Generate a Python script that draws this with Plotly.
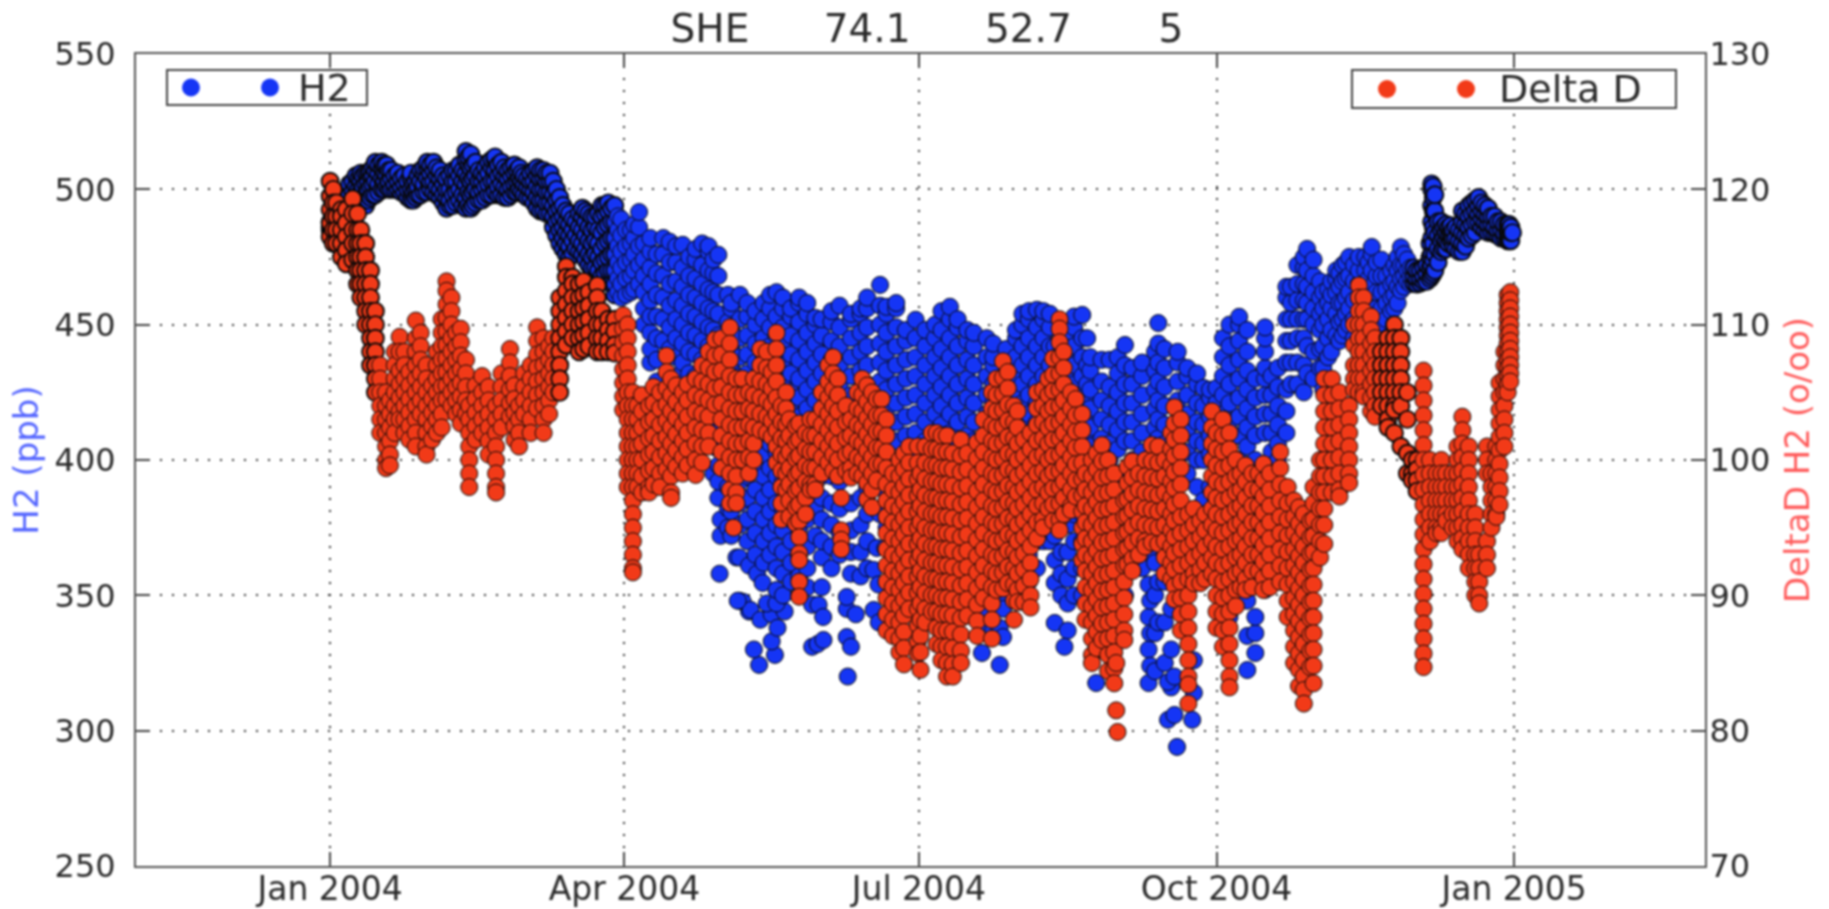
import pandas as pd
import plotly.graph_objects as go

# Every row: [day since 1 Jan 2004, value, value, ...].
h2_q1 = [
[0,485,486,488],[0.5,484,485,487],[1.5,484,487,490],[3,485,488,491],[4,486,490,494],[5,488,491,495,498],[6,490,494,498,502],[7,491,495,499,503],[8,492,497,501,505],[8.8,493,496,500,504],[9.5,495,499,503,506],
[10.2,494,497,501,505],[11,494,498,502,506],[11.8,496,500,503,506],[12.5,497,501,505,507],[13.2,498,502,505,508],[14,498,503,507,510],[15,499,502,506,509],[16,500,504,508,510],[16.8,500,503,506,509],[17.5,501,505,509],[18.2,500,503,507],[19,500,504,507],
[20,500,502,505],[21,500,503,506],[22,499,501,504],[23,499,502,505],[24,497,500,503],[25,496,500,504,506],[25.8,496,499,502],[26.5,497,500,503],[27.2,498,501,505],[28,498,503,507],[29,499,502,506,508],[30,499,504,508,510],[31,500,503,506,509],
[32,499,503,507,510],[33,498,501,505,508],[34,497,500,504,507],[35,495,498,502,505],[36,493,497,500,504],[37,494,496,500,505],[38,494,498,503,507],[39,495,499,503,507],[40,496,500,505,509],[41,494,498,503,507],
[42,493,497,502,506,511,514],[42.8,494,499,504,509,512],[43.5,493,498,503,508,513],[44.2,494,499,504,509],[45,495,500,505,510],[46,496,499,503,507],[47,496,500,503,506],[48,497,501,505,508],[49,498,502,506,510],[50,498,503,508,511],
[51,499,503,507,511,512],[52,498,501,505,509],[53,498,502,506,510],[54,497,501,505,508],[55,497,500,504,507],[56,498,501,505,508],[57,499,502,506,509],[57.8,499,503,507],[58.5,500,504,508],[59.2,499,503,506],[60,498,502,505],
[61,497,501,504],[62,497,500,503,506],[63,495,499,503,507],[64,493,497,501,505,508],[65,492,496,500,504,507],[66,492,496,500,504,507],[67,491,495,499,503,506],[68,491,495,499,503,506],[69,486,490,494,498,503],[70,483,488,492,496,500],
[71,480,485,489,493,497],[72,478,482,486,490,494],[73,476,480,484,488,492],[74,475,479,483,487,491],[75,476,481,485,489],[76,478,483,488],[77,477,481,486,491],[78,476,480,485,490,493],[79,474,478,483,488,492],[80,472,476,481,486,491],
[81,471,475,480,485,490],[82,471,476,481,486,490],[83,470,475,480,485,491],[84,468,473,478,484,490,494],[85,469,474,480,486,491,494],[86,470,475,481,487,492,495],[87,465,470,476,482,488,493],[88,461,465,470,476,482,488,494],
[89,462,467,473,479,485,490],[90,460,465,471,477,483,489],
]
h2_q2 = [
[91.5,461,467,473,479,485],[93,462,468,474,480,485],[94,463,470,476,482,487],[95.5,465,472,479,486,491.6],[97,450,456,462,468,474,480],[99,436,441,447,453,459,465,471,477,482],
[101,421,429,437,445,453,461,469,476],[103,444,452,460,468,476,482],[105,441,449,457,465,473,480.6],[107,431,438,445,452,459,466,473,479],
[109,416,426,436,443,450,457,464,471,479.5],[111,424,432,440,447,454,461,468,475],[113,411,421,431,439,446,453,460,467,474,478],
[115,420,430,437,444,451,458,465,472,480],[117,410,420,428,435,442,449,456,463,470,477,479],[118.5,395,405,415,424,432,440,448,455,462,469,474],
[120.4,358],[120.7,372,378],[120,386,392,398,404,410,416,422,430,438,446,454,461,468,475.8],
[123,375,382,390,400,410,420,430,437,444,451,461],
[125.6,364],[126.5,364,348],[127.6,347.6],[129.5,361,344],[130,344.6],[132,358],[133.7,354.6],[133,341],[132.6,324.3],[131,330],
[137.5,328],[136.5,333,343],[138.3,338],[140.5,344],[135,347],[138,347],[126,348],
[124,372,381,389,397,405,413,421,428,435,442,449,456,458],[126.7,376,384,392,400,408,416,424,431,438,445,452,461],
[129,370,378,386,394,402,410,418,425,432,439,446,453,458],[131.5,365,373,381,389,397,405,413,421,429,436,443,450,455],
[134,362,370,378,386,394,402,410,417,424,431,438,445,452,458],[136,365,373,381,389,397,406,414,421,428,435,442,449,456,461],
[138,352,360,368,376,384,394,403,411,418,425,432,439,446,453,462],[140,350,358,366,374,382,392,400,407,414,421,428,435,442,449,456,460],
[142.5,355,362,370,378,386,396,404,411,418,425,432,439,446,453,456],[145,350,357,365,375,385,395,402,409,416,423,430,437,444,451,458,460],
[147.5,353,360,368,378,388,398,405,412,419,426,433,440,447,454,458],
[149,331,346.5],[150.7,332],[152.5,333.5],[151,346.5],[152.4,342],[150,372,382,392,401,408,415,422,429,436,443,450,452.5],
[152,353,364,370,378,386,394,404,411,418,425,432,439,446,452],[155,360,368,376,384,394,402,409,416,423,430,437,444,451,455],
[157.5,365,373,382,392,400,407,414,421,428,435,442,449,457],[159.7,334.6,345,349.4],[160,320],[161,331],[162.5,343],
[161,358,366,374,384,394,403,410,417,424,431,438,445,452,454],[164,357,366,376,386,396,405,412,419,426,433,440,447,454,456],
[166,360,370,380,390,400,407,414,421,428,435,442,449,456,460],[168,344.6,359.4],[169.6,340],[169.5,354],[172.5,349.4],[169,367.5],[171.6,367.5],
[170,380,390,400,408,415,422,429,436,443,450,457,464.7],[172,375,385,395,405,412,419,426,433,440,447,454,456.6],
[175,370,380,390,400,407,414,421,428,435,442,449,456,458],[178,372,382,392,402,409,416,423,430,437,444,448],[181,372,382,392,402,410,417,424,431,438,445,451.8],
]
h2_q3 = [
[184,380,390,400,407,414,421,428,435,442,448],[187,372,382,392,403,410,417,424,431,438,445,450],[189,380,390,400,406,413,420,427,434,441,448,455],
[191.6,372,382,392,403,410,417,424,431,438,445,452,456.6],[194,370,380,390,400,407,414,421,428,435,442,449,452],[197,360,370,380,390,402,409,416,423,430,437,444,448],
[199,350,360,370,380,390,400,407,414,421,428,435,442,447],[201.5,328.7,340,350,360,370],[203,345,355,365,375,385,395,403,410,417,424,431,438,445],
[205,337,350,360,370,380,390,400,407,414,421,428,435,438,443],[207,324.3,338,350],[208,334.6,345,355],[209,360,370,380,390,400,407,414,421,428,435,441],
[212,350,360,370,380,390,403,410,417,424,431,438,445,448],[214,352,362,372,382,392,400,407,414,421,428,435,442,450,454],
[216,355,365,375,385,395,403,410,417,424,431,438,445,452,455],[218.5,360,370,380,390,400,407,414,421,428,435,442,449,455.5],
[220.5,370,380,390,400,410,417,424,431,438,445,452,455],[222.5,370,380,390,400,407,414,421,428,435,442,449,454],
[224,339.8,354.6,363,372,382,392,402,409,416,423,430,437,442],[226,350,358,366,376,386,396,405,412,419,426,433,440,446],
[228,337,347,356,366,376,386,396,402,409,416,423,430,437,445],[230,350,360,370,380,390,400,407,414,421,428,435,442,449,453],
[232.5,350,360,370,380,390,403,410,417,424,431,438,445,453.6],[234,360,370,380,390,400,407,414,421,428,435,445],
[227,331],[235,370,380,390,400,405,412,419,426,433,438],[236.8,317.6,330,345],[238.5,345,355,370,385,400,408,415,422,429,437],
[241,340,355,370,385,400,406,413,420,427,437],[243.5,350,365,380,395,404,411,418,425,432,438],[245.7,350,365,380,395,407,414,421,428,435,442.5],
[248,360,375,390,400,407,414,421,428,434],[251,360,375,390,403,410,417,424,431,436],[253,317.6,330,342,354,366],[253.5,324,336,348],
[255,322,336,350,362,380,395,405,412,419,426,433,440],[256,340,355,370,385,400,408,415,422,429,436,443,450.6],[258,325,340,355,370,385,400,406,413,420,427,434,441],
[260,316,330,345],[259,304,318],[261,305.8,320],[261.8,294],[267,314,326],[266.5,304],[262,370,385,400,408,415,422,429,436,440],[265,380,395,403,410,417,424,431,434],
[268,375,390,400,407,414,421,428,432],[270,385,400,406,413,420,426.6],[272,375,390,402,409,416,423,426],[274,385,400,407,414,421,426.6],
]
h2_q4 = [
[276,350,365,380,395,403,410,417,424,431,438,445],[278,342,356,370,385,400,407,414,421,428,435,442,450],[281,355,370,385,400,409,416,423,430,437,444,450,452.9],
[283.5,322.4,335,348,360,375,390,405,412,419,426,433,440,448],[286,328.7,336,342,355,370,385,400,409,416,423,430],[289,352,367,382,397,410,417,424,430,434,440,445,449],
[291,380,395,403,410,417,424,431],[293,370,385,400,406,413,420,427,434],[295.6,410,418,426,436,444,452,460,464],[297,428,436,444,452,458,464],[299,428,436,445,452,459,465,472],
[301,425,435,445,452,459,465,471,475],[302,432,442,452,458,464,470,478],[304,430,440,450,456,462,468,474],[306,434,441,448,454,460,466],[307,426,434,442,450,456,462],[308.5,438,445,452,458,463],[309.5,440,448,456,461,466],
[311,446,454,462,467,470],[312,444,451,458,464,469],[313,446,452,458,466,472],[314,448,454,460,467,473],[315,450,456,462,468,475],[316.5,445,452,459,466,472],[318,440,450,460,465,470,475],[320,445,455,465,470,475],
[321,448,455,461,467,473],[322,452,458,464,470,476,478.7],[323.5,450,456,462,468,473],[325,450,456,462,468,474],[326.5,452,458,463,468],[328,455,460,465,470],[329,456,461,466,472],[330,458,464,470,475],[331,462.6,467,472,478.6],
[332,464,468,472,476],[333,466,470,474],[334,465,468,471],[335,465.4,468,471],[336,465,467,470],[337,465.4,467,470],[338,466,468,471],[339,466,469,472],[340,467,471,475,480],[340.5,468,472,476,482,488,494,500,502],[341,469,474,480,486,492,497,501],[341.5,470,476,484,492,498],
[342.5,473,478,483,488],[343.5,477,481,485,488],[344.2,478,482,486],[345,478,481,484,487],[345.8,480,483,486],[346.5,481,483,485,486.6],[347.2,479,482,485],[348,478,482,486],[349,477,481,485],[350,477,480,484,488,492],
[351,479,483,487,491],[352,482,486,490,494],[353,483,487,491,495],[354,484,488,492,496],[355,488,491,494,497],[356,486,489,492,495],[357,485,488,491,494],[358,484,487,490,493],[359,484,487,490],[360,483.6,486,490],
[361,483,485,488],[362,482,485,488],[363,482,484,487],[364,481,484,487],[364.5,481,483,485,487],[365,481,484,486],[365.5,484],
]

dd_q1 = [
[0,120.6,119.5,118.5,117.5,116.5],[1,120,119,118,117,116],[2,119,118,117,116],[3.5,118.5,118,117,116,115],[5,118.5,117.5,116.5,115.5,114.5],
[7,119.3,118.2,117,116,114.8],[8.5,118.2,117,116,115,114,113],[9.5,117,116,115,114,113,112],[11,116,115,114,113,112,111,110],
[12.5,114,113,112,111,110,109,108,107],[14,111,110,109,108,107,106,105],[15.5,107,106,105,104,103,102],[17.3,105,104,103,102,101,100,99.4],
[18.5,104.4,103.4,102.4,101.4,100.4,99.6],[20,108,107,106,105,104,103,102],[21.5,109.1,108,106.6,105.6,104.6,103.6,103],[23,108,107,106,105,104,103,102],
[24.5,106.5,105.5,104.5,103.5,102.5,101.5],[26.5,110.3,109,108,107,106,105,104,103,102,101],[28,109.4,108.4,107.4,106.4,105.4,104.4,103.4],
[29.8,107,106,105,104,103,102,101,100.4],[31.5,105.5,104.5,103.5,102.5,101.5],[33,108,107,106,105,104,103,102],[34.5,110.4,109.4,108.4,107.4,106.4,105.4,104.4,103.4,102.4],
[36,113.2,112.5,111.5,110.5,109.5,108.5,107.5,106.5,105.5,104.5],[37.5,112,111,110,109,108,107,106,105,104],[39,109.4,108.4,107.4,106.4,105.4,104.4,103.4],
[40.4,109.7,108.7,107.7,106.7,105.7,104.7,103.7,102.7],[42,107.4,106.4,105.4,104.4,103.4],[43,104,103,102,101,100,99,98],[45,105.5,104.5,103.5,102.5,101.5],
[47,106.2,105,104,103,102],[49,105.4,104.4,103.4,102.4,101.4,100.4],[51.3,104,103,102,101,100,99,98,97.6],[53,106.4,105.4,104.4,103.4,102.4],
[55.6,108.2,107.2,106.2,105.2,104.2,103.2],[57,105.5,104.5,103.5,102.5,101.5],[58.4,104,103,102,101],[60,106.4,105.4,104.4,103.4],[62,107,106,105,104,103,102],
[64,109.8,108.8,107.8,106.8,105.8,104.8,103.8],[66,109,108,107,106,105,104,103,102],[67.7,108.4,107.4,106.4,105.4,104.4,103.4],[69,109,108,107,106,105],
[71,112,111,110,109,108,107,106,105],[73,114.3,113.5,112.5,111.5,110.5,109.5,108.5],[75,113.5,113,112,111,110,109],[77,113,112,111,110,109,108],
[78.4,113.2,112.2,111.2,110.2,109.2,108.2],[80,112.4,111.4,110.4,109.4,108.4],[82.6,112.9,112,111,110,109,108],[84,111,110,109,108],[86,110.4,109.6,108.8,108],
[88,110.4,109.5,108.5,107.9],[90.6,110.7,109.7,108.7,107.7,106.7,105.7,104.7,103.7],[92,110,109,108,107,106,105,104,103,102,101,100,99,98],
[93.6,105,104,103,102,101,100,99,98,97,96,95,94,93,92,91.7],
]
dd_q2 = [
[95,104,103,102,101,100,99,98],[96.4,104.8,103.6,102.4,101.2,100,98.8,97.6],[98.6,104,102.8,101.6,100.4,99.2,98,97.6],
[100,105.4,104.2,103,101.8,100.6,99.4,98.2],[102,105,103.8,102.6,101.4,100.2,99,98],[104,107.7,106.5,105.3,104.1,102.9,101.7,100.5,99.3],
[105.4,106,104.8,103.6,102.4,101.2,100,98.8,97.6,97.2],[107,105.5,104.3,103.1,101.9,100.7,99.5],[109,105,103.8,102.6,101.4,100.2,99],
[110.5,105.6,104.4,103.2,102,100.8,99.6],[113,106,104.8,103.6,102.4,101.2,100,98.9],[115,107,105.8,104.6,103.4,102.2,101,99.8],
[117,108,106.8,105.6,104.4,103.2,102,101],[119,108.9,107.7,106.5,105.3,104.1],[121,109,107.8,106.6,105.4,104.2,103,101.8,100.6,99.4],
[123.6,109.8,108.6,107.4,106.2,105,103.8,102.6,101.4,100.2,99,97.8,96.8],[124.7,95],[125.6,106,104.8,103.6,102.4,101.2,100,98.8,97.6,96.8],
[127.5,106,104.8,103.6,102.4,101.2,100],[129.5,105,103.8,102.6,101.4,100.2,99],[131,106,104.8,103.6,102.4,101.2,100],
[133,108.2,107,105.8,104.6,103.4,102.2],[135,108,106.8,105.6,104.4,103.2,102],[136.5,106.5,105.3,104.1,102.9,101.7],
[138,109.4,108.2,107,105.8,104.6,103.4,102.2,101,99.8],[139.5,104,102.8,101.6,100.4,99.2,98,96.8,95.6],[141,105,103.8,102.6,101.4,100.2,99,97.8],
[142,103,101.8,100.6,99.4,98.2,97,95.8],[144,102.5,101.3,100.1,98.9,97.7,96.5,95.3],[145,102.7,101.5,100.3,99.1,97.9,96.7,95.5,94.3,93.1,92.6,91,89.9],
[147,102,100.8,99.6,98.4,97.2,96],[148.5,103,101.8,100.6,99.4,98.2,97.8],[150,103,101.8,100.6,99.4,98.2,97.8],[152,105,103.8,102.6,101.4,100.2,99],
[154,107,105.8,104.6,103.4,102.2,101,99.8],[155.5,107.6,106.4,105.2,104,102.8,101.6,100.4,99.2],[157,106,104.8,103.6,102.4,101.2,100,98.8],
[158,97.2,94.8,94.1,93.4],[159.5,104,102.8,101.6,100.4,99.2],[161,103,101.8,100.6,99.4,98.7],[163,105,103.8,102.6,101.4,100.2,99],
[164.5,106,104.8,103.6,102.4,101.2,100,98.8],[166,105.5,104.3,103.1,101.9,100.7,99.5,98.3,97.1],[167.5,105,103.8,102.6,101.4,100.2,99,97.8,96.5],
[169,104.5,103.3,102.1,100.9,99.7,98.5],[170.5,104.5,103.3,102.1,100.9,99.7],[172,103,101.8,100.6,99.4,98.2,97,95.8,94.6,93.4,92.2,91,89.8,88.6,87.4],
[174,99,97.8,96.6,95.4,94.2,93,91.8,90.6,89.4,88.2,87],[176,100,98.8,97.6,96.4,95.2,94,92.8,91.6,90.4,89.2,88,86.8,85.8],
[177.4,100.5,99.3,98.1,96.9,95.7,94.5,93.3,92.1,90.9,89.7,88.5,87.3,86.1,84.9],[179,101,99.8,98.6,97.4,96.2,95,93.8,92.6,91.4,90.2,89],
[181.7,101,99.8,98.6,97.4,96.2,95,93.8,92.6,91.4,90.2,89,87.8,86.6,85.7],[182.5,99,97.8,96.6,95.4,94.2,93,91.8,90.6,89.4,88.2,87,85.8,84.5],
]
dd_q3 = [
[184,101,99.8,98.6,97.4,96.2,95,93.8,92.6,91.4,90.2,89,88],[186,102,100.8,99.6,98.4,97.2,96,94.8,93.6,92.4,91.2,90,88.8],
[187.5,102,100.8,99.6,98.4,97.2,96,94.8,93.6,92.4,91.2,90,88.8,87.6,86.4],[189,101.8,100.6,99.4,98.2,97,95.8,94.6,93.4,92.2,91,89.8,88.6,87.4,86.2,85.2],
[190.7,101.8,100.6,99.4,98.2,97,95.8,94.6,93.4,92.2,91,89.8,88.6,87.4,86.2,85,84],[192.5,100.5,99.3,98.1,96.9,95.7,94.5,93.3,92.1,90.9,89.7,88.5,87.3,86.1,84.9,84],
[195,101.5,100.3,99.1,97.9,96.7,95.5,94.3,93.1,91.9,90.7,89.5,88.3,87.1,85.9,85],[197,100.5,99.3,98.1,96.9,95.7,94.5,93.3,92.1,90.9,89.7,88.5],
[200,101.3,100.1,98.9,97.7,96.5,95.3,94.1,92.9,91.7,90.5,89.3,88.1,87],[202,103,101.8,100.6,99.4,98.2,97,95.8,94.6,93.4,92.2,91,89.8],
[204.6,105,103.8,102.6,101.4,100.2,99,97.8,96.6,95.4,94.2,93,91.8,90.6,89.4,88.2,86.8],[206,106,104.8,103.6,102.4,101.2,100,98.8,97.6,96.4,95.2,94,92.8,91.6,90.4],
[208,107.3,106.1,104.9,103.7,102.5,101.3,100.1,98.9,97.7,96.5,95.3,94.1,92.9,91.7,90.5],[209.5,106.5,105.3,104.1,102.9,101.7,100.5,99.3,98.1,96.9,95.7,94.5,93.3,92.1,90.9],
[211.4,104,102.8,101.6,100.4,99.2,98,96.8,95.6,94.4,93.2,92,90.8,89.6,88.2],[212.5,103.6,102.4,101.2,100,98.8,97.6,96.4,95.2,94,92.8,91.6,90.4,89.5],
[214.5,101.5,100.3,99.1,97.9,96.7,95.5,94.3,93.1,91.9,90.7,89.5],[216.5,102,100.8,99.6,98.4,97.2,96,94.8,93.6,92.4,91.2,90,89.1],
[218.5,105,103.8,102.6,101.4,100.2,99,97.8,96.6,95.4,94.2],[220.4,105.2,104,102.8,101.6,100.4,99.2,98,96.8,95.6,95],
[222,106,104.8,103.6,102.4,101.2,100,98.8,97.6,96.4],[223.5,107.5,106.3,105.1,103.9,102.7,101.5,100.3,99.1,97.9,96.7,95.5],
[225.5,110.4,109.7,108.7,107.6,106.4,105.2,104,102.8,101.6,100.4,99.2,98,96.8,95.6,94.8],[226.8,108,106.8,105.6,104.4,103.2,102,100.8,99.6,98.4,97.2,96],
[229,105,103.8,102.6,101.4,100.2,99,97.8,96.6,96.3],[230.5,104.5,103.3,102.1,100.9,99.7,98.5,97.3],[232.5,103.4,102.2,101,99.8,98.6,97.4,96.2,95,93.8,92.6],
[233.5,99,97.8,96.6,95.4,94.2,93,91.8,90.6,89.4,88.2],[235.5,100,98.8,97.6,96.4,95.2,94,92.8,91.6,90.4,89.2,88,86.8,85.6,85],
[237,100.5,99.3,98.1,96.9,95.7,94.5,93.3,92.1,90.9,89.7,88.5,87.3,86.1],[238.6,101.1,99.9,98.7,97.5,96.3,95.1,93.9,92.7,91.5,90.3,89.1,87.9,86.7],
[240.5,100,98.8,97.6,96.4,95.2,94,92.8,91.6,90.4,89.2,88,86.8,85.6,84.4],[242.4,99,97.8,96.6,95.4,94.2,93,91.8,90.6,89.4,88.2,87,85.8,84.6,83.5],
[243,85,81.5],[243.4,79.9],[245.5,97,95.8,94.6,93.4,92.2,91,89.8,88.6,87.4,86.7],[246.5,99.5,98.3,97.1,95.9,94.7,93.5,92.3],
[248,99.9,98.7,97.5,96.3,95.1,93.9,92.7,91.8],[250,99,97.8,96.6,95.4,94.2,93],[252,100,98.8,97.6,96.4,95.2,94,93.6],[254,101.1,99.9,98.7,97.5,96.3,95.1,93.9],
[256,101,99.8,98.6,97.4,96.2,95,93.8],[258,100,98.8,97.6,96.4,95.2,94,92.8,91.6],[260,102,100.8,99.6,98.4,97.2,96,94.8,93.6,92.4,91.2],
[261,103.9,102.7,101.5,100.3,99.1,97.9,96.7,95.5,94.3,93.1,91.9,90.7,89.7],[263,103,101.8,100.6,99.4,98.2,97,95.8,94.6,93.4,92.2,91,89.8,88.6,87.4],
[265.3,96,94.8,93.6,92.4,91.2,90,88.8,87.6,86.4,85.2,84,83.4,82],[267,96.4,95.2,94,92.8,91.6,90.9],[269,95.5,94.3,93.1,91.9,90.9],[270.5,96,94.8,93.6,92.4,91.2],
[272.6,103.6,102.4,101.2,100,98.8,97.6,96.4,95.2,94,92.8,91.6],[274,102,100.8,99.6,98.4,97.2,96,94.8,93.6,92.4,91.2,90,88.8,87.6],
]
dd_q4 = [
[276,103,101.8,100.6,99.4,98.2,97,95.8,94.6,93.4,92.2,91,89.8,88.6,87.4,86.2],[278,102,100.8,99.6,98.4,97.2,96,94.8,93.6,92.4,91.2,90,88.8,87.6,86.4,85.2,84,83.2],
[280,100,98.8,97.6,96.4,95.2,94,92.8,91.6,90.4,89.2],[281.5,99,97.8,96.6,95.4,94.2,93,91.8,90.6],[283,99.6,98.4,97.2,96,94.8,93.6,92.4,91.2,90.4],
[285,99,97.8,96.6,95.4,94.2,93,91.8,90.6],[287,99,97.8,96.6,95.4,94.2,93,91.8],[288.5,99.7,98.5,97.3,96.1,94.9,93.7,92.5,91.3,90.4],
[290.5,99,97.8,96.6,95.4,94.2,93,91.8,90.6],[293.7,100.6,99.4,98.2,97,95.8,94.6,93.4,92.2,91],[296,98,96.8,95.6,94.4,93.2,92,90.8,89.6,88.4],
[298,97,95.8,94.6,93.4,92.2,91,89.8,88.6,87.4,86.2,85],[299.5,96.5,95.3,94.1,92.9,91.7,90.5,89.3,88.1,86.9,85.7,84.5,83.3],[301,96,94.8,93.6,92.4,91.2,90,88.8,87.6,86.4,85.2,84,83,82],
[303,95.5,94.3,93.1,91.9,90.7,89.5,88.3,87.1,85.9,84.7],[304,98,96.8,95.6,94.4,93.2,92,90.8,89.6,88.4,87.2,86,84.8,83.5],
[306,100,98.8,97.6,96.4,95.2,94,92.8],[307.3,106,104.8,103.6,102.4,101.2,100,98.8,97.6,96.4,95.2,93.8],[309.7,106,104.8,103.6,102.4,101.2,100,98.8,97.6],
[312,105,103.8,102.6,101.4,100.2,99,97.8,97.3],[315,104,103,102,101,100,99,98.3],[316.5,107,106,105.2,108.5,110],[318,112.9,112,111,110,109,108,107,106,105],
[319.5,112,111,110,109,108,107,106,105,104.7],[321.8,110.6,109.6,108.6,107.6,106.6,105.6,104.6,103.6],[323,109,108,107,106,105,104,103.2],
[325,108,107,106,105,104],[327,109,108,107,106,105,104,103,102.4],[329,110,109,108,107,106,105,104,103.7,102],[331,109,108,107,106,105,104,101],
[333,105,103,100.5,99],[334.5,100,99,98.5],[336,100,99.3,98.5,97.7],[338,106.6,105.5,104.4,103.3,102.2,101.1,100,98.9,97.8,96.7,95.6,94.5,93.4,92.3,91.2,90.1,89,87.9,86.8,85.7,84.7],
[340,100,99,98,97,96,95,94],[342,99,98,97,96,95,94.6],[343.5,100,99,98,97,96,95,94.6],[345,99,98,97,96,95.5],[347,99,98,97,96,95],
[348.5,101,100,99,98,97,96,95,94],[350,103.2,102.2,101.2,100.2,99.2,98.2,97.2,96.2,95.2,94.2,93.4],[352,101,100,99,98,97,96,95,94,93,92],
[354,96,95,94,93,92,91,90],[355.2,93,92,91,90,89.4],[357.6,101,100,99,94,93,92],[359,99,98,97,96,95],[360.5,101,100,99,98,97,96,95.8],
[361.5,105.7,104.7,103.7,102.7,101.7,100.7,99.7,98.7,97.7,96.7],[363,108,107,106,105,104,103,102,101],[364,112.2,111.6,111,110.4,109.8,109.2,108.6,108,107.4,106.8,106.2,105.6,105],
[364.8,112.4,111.8,111.2,110.6,110,109.4,108.8,108.2,107.6,107,106.4,105.8],
]

tick_dates = ["2004-01-01", "2004-04-01", "2004-07-01", "2004-10-01", "2005-01-01"]
tick_names = ["Jan 2004", "Apr 2004", "Jul 2004", "Oct 2004", "Jan 2005"]
h2_ticks = [250, 300, 350, 400, 450, 500, 550]
dd_ticks = [70, 80, 90, 100, 110, 120, 130]
BLUE, RED = "#1535f5", "#f23a18"
TEXT = "#2a2a2a"

# Day ranges where the samples are so tight in the reference that the black rims dominate.
h2_dark_days = [(0, 88), (335, 366)]
dd_dark_days = [(0, 14), (70, 90), (325, 336)]

def flatten(*blocks):
    days, xs, ys = [], [], []
    for block in blocks:
        for row in block:
            for v in row[1:]:
                days.append(row[0])
                xs.append(pd.Timestamp("2004-01-01") + pd.Timedelta(days=row[0]))
                ys.append(v)
    return days, xs, ys

def rim_widths(days, spans):
    return [1.9 if any(a <= d <= b for a, b in spans) else 1.0 for d in days]

W, H = 1829, 909
L, R, T, B = 136, 1705, 54, 866
px = lambda x: (x - L) / (R - L)
py = lambda y: 1 - (y - T) / (B - T)

fig = go.Figure()
hd, hx, hy = flatten(h2_q1, h2_q2, h2_q3, h2_q4)
dd, dx, dy = flatten(dd_q1, dd_q2, dd_q3, dd_q4)
fig.add_trace(go.Scatter(x=hx, y=hy, name="H2", mode="markers", yaxis="y",
                         marker=dict(color=BLUE, size=17, line=dict(color="#080808", width=rim_widths(hd, h2_dark_days)))))
fig.add_trace(go.Scatter(x=dx, y=dy, name="Delta D", mode="markers", yaxis="y2",
                         marker=dict(color=RED, size=17, line=dict(color="#080808", width=rim_widths(dd, dd_dark_days)))))

shapes, notes = [], []
def legend_box(x0, x1, y0, y1, dots, color, label, tx):
    shapes.append(dict(type="rect", xref="paper", yref="paper", x0=px(x0), x1=px(x1), y0=py(y1), y1=py(y0),
                       line=dict(color="#444", width=2), fillcolor="white", layer="above"))
    yc = (y0 + y1) / 2
    for d in dots:
        shapes.append(dict(type="circle", xref="paper", yref="paper", x0=px(d - 9), x1=px(d + 9), y0=py(yc + 9), y1=py(yc - 9),
                           line=dict(color=color, width=0), fillcolor=color, layer="above"))
    notes.append(dict(text=label, xref="paper", yref="paper", x=px(tx), y=py(yc), xanchor="left", yanchor="middle",
                      showarrow=False, font=dict(size=38, color=TEXT)))

legend_box(167, 367, 70, 105, [191, 270], BLUE, "H2", 296)
legend_box(1352, 1676, 70, 108, [1387, 1466], RED, "Delta D", 1497)

grid = dict(showgrid=True, gridcolor="#333", gridwidth=2, griddash="2px 10px")
axis_line = dict(showline=True, linecolor="#555", linewidth=2, ticks="inside", ticklen=14, tickwidth=2, tickcolor="#444",
                 zeroline=False, automargin=False)
nb = "\u00a0"
fig.update_layout(
    width=W, height=H, margin=dict(l=L, r=W - R, t=T, b=H - B), showlegend=False,
    plot_bgcolor="white", paper_bgcolor="white", font=dict(family="DejaVu Sans", color=TEXT),
    shapes=shapes, annotations=notes,
    title=dict(text="SHE" + nb * 6 + "74.1" + nb * 6 + "52.7" + nb * 7 + "5", automargin=False,
               x=927 / W, xanchor="center", y=1 - 28 / H, yanchor="middle", font=dict(size=39, color=TEXT)),
    xaxis=dict(type="date", range=["2003-11-02", "2005-03-01"], tickvals=tick_dates, ticktext=tick_names,
               tickfont=dict(size=33), mirror="ticks", ticklabelstandoff=-8, **grid, **axis_line),
    yaxis=dict(range=[250, 550], tickvals=h2_ticks, tickfont=dict(size=32), mirror=True, ticklabelstandoff=12,
               title=dict(text="H2 (ppb)", font=dict(size=34, color="#5566ff"), standoff=6), **grid, **axis_line),
    yaxis2=dict(range=[70, 130], tickvals=dd_ticks, tickfont=dict(size=32), overlaying="y", side="right", showgrid=False,
                ticklabelstandoff=-4, title=dict(text="DeltaD H2 (o/oo)", font=dict(size=34, color="#ff5c5c"), standoff=16), **axis_line),
)
fig.write_html("out.html", config={"displayModeBar": False},
               post_script="document.body.style.margin='0';document.body.style.overflow='hidden';"
                           "document.querySelector('.js-plotly-plot').style.filter='blur(1px)';")
